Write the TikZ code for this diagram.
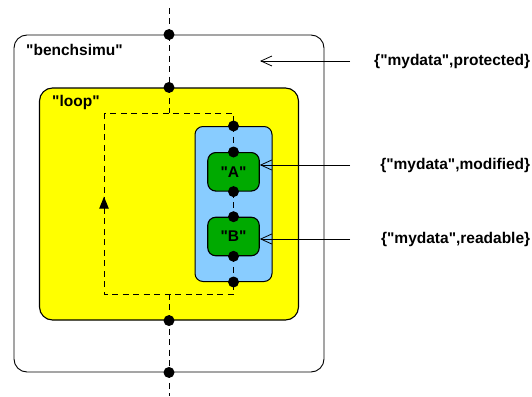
\documentclass[tikz,border=0pt]{standalone}
\usepackage{fontspec}
\setmainfont{Liberation Sans}[Ligatures=TeXOff]
\usetikzlibrary{arrows.meta}

\definecolor{loopyellow}{RGB}{255,255,0}
\definecolor{blockblue}{RGB}{136,204,255}
\definecolor{taskgreen}{RGB}{0,170,0}

\tikzset{
  box/.style={draw,rounded corners=#1,inner sep=0pt},
  port/.style={circle,fill=black,inner sep=0pt,minimum size=11pt},
  flow/.style={line width=1pt,dash pattern=on 6pt off 4.5pt},
  ptr/.style={line width=0.8pt,-{Straight Barb[length=11pt,width=10pt]}},
  lbl/.style={inner sep=0pt,anchor=west,text width=180pt,align=right}
}

\begin{document}
\begin{tikzpicture}[x=1pt,y=-1pt,font=\bfseries\fontsize{15.5}{18}\selectfont]
    \useasboundingbox (0,0) rectangle (532,396);

    % outer block
    \node[box=13pt,fill=white,line width=0.9pt,minimum width=310pt,minimum height=337pt] (bench) at (169,203.5) {};
    \node[inner sep=0pt,anchor=west] (benchLbl) at (26,50) {"benchsimu"};

    \coordinate (top) at (169,8);
    \coordinate (bot) at (169,396);
    \draw[flow] (top) -- (bench.north);
    \draw[flow] (bench.north) -- (bench.south);
    \draw[flow] (bench.south) -- (bot);

    % loop
    \node[box=13pt,fill=loopyellow,line width=1.1pt,minimum width=259pt,minimum height=232pt] (loop) at (169,204) {};
    \node[inner sep=0pt,anchor=west] (loopLbl) at (52,102) {"loop"};

    \coordinate (lt) at (104,113.3);
    \coordinate (rb) at (233.5,294.3);
    \draw[flow] (lt) rectangle (rb);
    \draw[flow] (loop.north) -- (loop.north |- lt);
    \draw[flow] (loop.south) -- (loop.south |- rb);
    \coordinate (back) at (104,209.5);
    \coordinate (backTip) at (104,196.7);
    \draw[line width=1pt,-{Triangle[length=12pt,width=9.5pt]}] (back) -- (backTip);

    % block with the two tasks
    \node[box=8pt,fill=blockblue,line width=1pt,minimum width=77pt,minimum height=155pt] (blk) at (233.5,204) {};
    \node[box=8pt,fill=taskgreen,line width=1.1pt,minimum width=51.5pt,minimum height=38.5pt] (A) at (233.5,171.8) {"A"};
    \node[box=8pt,fill=taskgreen,line width=1.1pt,minimum width=51.5pt,minimum height=38.5pt] (B) at (233.5,236.5) {"B"};
    \draw[flow] (blk.north) -- (A.north);
    \draw[flow] (A.south) -- (B.north);
    \draw[flow] (B.south) -- (blk.south);

    \foreach \p [count=\i] in {bench.north,bench.south,loop.north,loop.south,blk.north,blk.south,A.north,A.south,B.north,B.south}
      \node[port] (port\i) at (\p) {};

    % data access
    \node[lbl] (prot) at (350,61) {\{"mydata",protected\}};
    \node[lbl] (modi) at (350,165) {\{"mydata",modified\}};
    \node[lbl] (read) at (350,239) {\{"mydata",readable\}};
    \coordinate (protTip) at (260,61);
    \draw[ptr] (prot.west) -- (protTip);
    \draw[ptr] (modi.west) -- (modi.west -| A.east);
    \draw[ptr] (read.west) -- (read.west -| B.east);

\end{tikzpicture}
\end{document}
